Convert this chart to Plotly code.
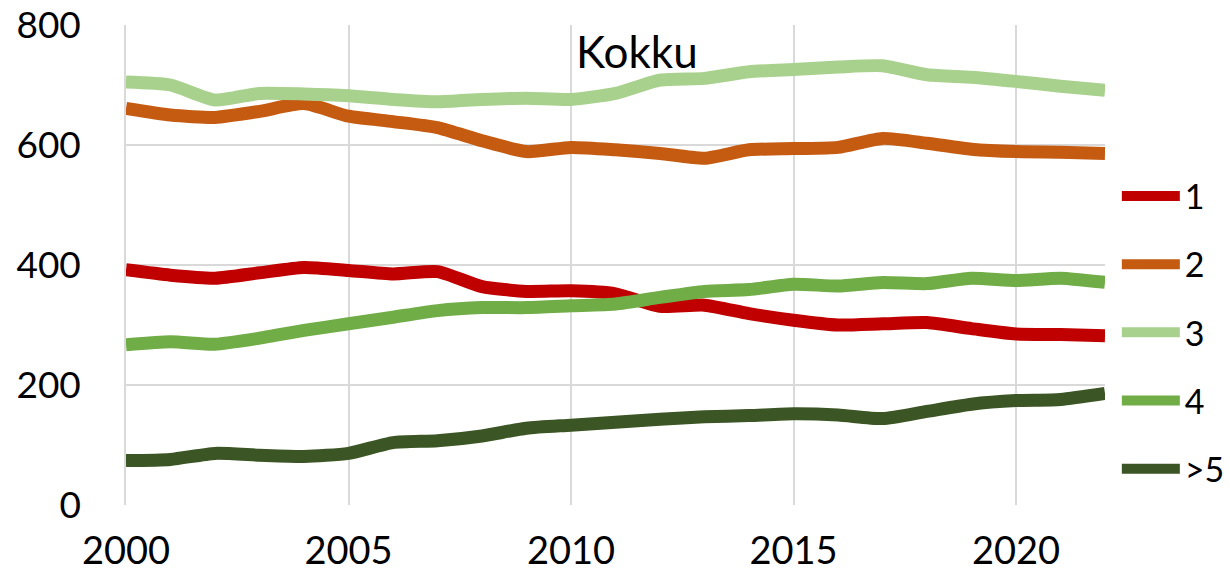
import plotly.graph_objects as go

years = list(range(2000, 2023))
s1 = [392, 383, 378, 387, 396, 391, 385, 389, 364, 356, 357, 352, 331, 333, 319, 308, 300, 302, 304, 294, 285, 284, 282]
s2 = [661, 650, 646, 656, 669, 648, 639, 629, 607, 589, 596, 592, 586, 578, 592, 594, 596, 611, 603, 593, 589, 588, 586]
s3 = [705, 700, 675, 686, 685, 682, 676, 672, 676, 678, 676, 686, 708, 711, 722, 726, 730, 732, 717, 713, 706, 698, 691]
s4 = [267, 272, 268, 278, 291, 302, 313, 324, 329, 329, 332, 335, 346, 356, 359, 368, 365, 371, 369, 378, 374, 378, 371]
s5 = [74, 76, 86, 83, 81, 86, 104, 107, 115, 128, 133, 138, 143, 147, 149, 152, 150, 144, 156, 168, 174, 176, 186]

names = ["1", "2", "3", "4", ">5"]
series = [s1, s2, s3, s4, s5]
colors = ["#C00000", "#C55A11", "#A9D18E", "#70AD47", "#3B5524"]

FONT = "Lato"

fig = go.Figure()
for i, (n, s, c) in enumerate(zip(names, series, colors)):
    fig.add_trace(go.Scatter(
        x=years, y=s, name=n, mode="lines", legendgroup=str(i),
        line=dict(color=c, width=13, shape="spline", smoothing=0.6),
    ))

fig.add_annotation(text="Kokku", x=0.522, y=0.945, xref="paper", yref="paper",
                   xanchor="center", yanchor="middle",
                   showarrow=False, font=dict(family=FONT, size=44, color="black"))

fig.update_layout(
    width=1230, height=581,
    margin=dict(l=126, r=125, t=25, b=76),
    paper_bgcolor="white", plot_bgcolor="white",
    font=dict(family=FONT, size=37, color="black"),
    showlegend=True,
    legend=dict(xref="container", yref="container", x=0.908, y=0.712,
                xanchor="left", yanchor="top", maxheight=450,
                tracegroupgap=21, itemwidth=58, font=dict(size=34),
                bgcolor="rgba(0,0,0,0)"),
    xaxis=dict(range=[2000, 2022], tickmode="array", tickvals=[2000, 2005, 2010, 2015, 2020],
               showgrid=True, gridcolor="#D9D9D9", gridwidth=1.5, automargin=False,
               showline=False, zeroline=False, ticks="", ticklabelstandoff=20,
               tickfont=dict(size=38)),
    yaxis=dict(range=[0, 800], tickvals=[0, 200, 400, 600, 800],
               showgrid=True, gridcolor="#D9D9D9", gridwidth=1.5, automargin=False,
               showline=True, linecolor="#D9D9D9", linewidth=1.5,
               zeroline=False, ticks="", ticklabelstandoff=36,
               tickfont=dict(size=37)),
)

fig.write_html("out.html", config={"displayModeBar": False},
               post_script="document.body.style.margin='0';")
